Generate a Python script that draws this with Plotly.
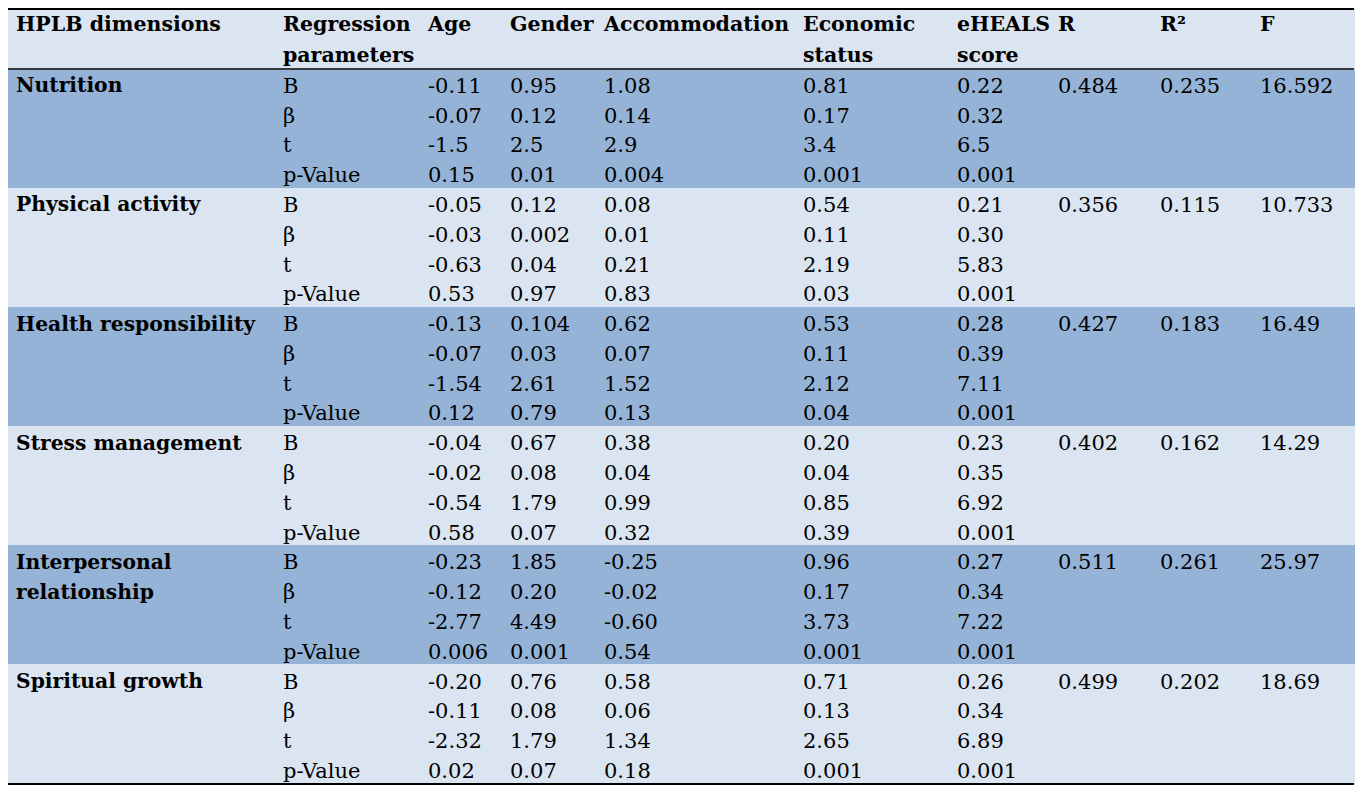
import plotly.graph_objects as go

# regression of HPLB dimensions on demographics and eHEALS score
dimensions = ["Nutrition", "Physical activity", "Health responsibility",
              "Stress management", "Interpersonal relationship", "Spiritual growth"]
params = ["B", "β", "t", "p-Value"]

age = [["-0.11", "-0.07", "-1.5", "0.15"],
       ["-0.05", "-0.03", "-0.63", "0.53"],
       ["-0.13", "-0.07", "-1.54", "0.12"],
       ["-0.04", "-0.02", "-0.54", "0.58"],
       ["-0.23", "-0.12", "-2.77", "0.006"],
       ["-0.20", "-0.11", "-2.32", "0.02"]]
gender = [["0.95", "0.12", "2.5", "0.01"],
          ["0.12", "0.002", "0.04", "0.97"],
          ["0.104", "0.03", "2.61", "0.79"],
          ["0.67", "0.08", "1.79", "0.07"],
          ["1.85", "0.20", "4.49", "0.001"],
          ["0.76", "0.08", "1.79", "0.07"]]
accommodation = [["1.08", "0.14", "2.9", "0.004"],
                 ["0.08", "0.01", "0.21", "0.83"],
                 ["0.62", "0.07", "1.52", "0.13"],
                 ["0.38", "0.04", "0.99", "0.32"],
                 ["-0.25", "-0.02", "-0.60", "0.54"],
                 ["0.58", "0.06", "1.34", "0.18"]]
economic = [["0.81", "0.17", "3.4", "0.001"],
            ["0.54", "0.11", "2.19", "0.03"],
            ["0.53", "0.11", "2.12", "0.04"],
            ["0.20", "0.04", "0.85", "0.39"],
            ["0.96", "0.17", "3.73", "0.001"],
            ["0.71", "0.13", "2.65", "0.001"]]
eheals = [["0.22", "0.32", "6.5", "0.001"],
          ["0.21", "0.30", "5.83", "0.001"],
          ["0.28", "0.39", "7.11", "0.001"],
          ["0.23", "0.35", "6.92", "0.001"],
          ["0.27", "0.34", "7.22", "0.001"],
          ["0.26", "0.34", "6.89", "0.001"]]
r_vals = ["0.484", "0.356", "0.427", "0.402", "0.511", "0.499"]
r2_vals = ["0.235", "0.115", "0.183", "0.162", "0.261", "0.202"]
f_vals = ["16.592", "10.733", "16.49", "14.29", "25.97", "18.69"]

# two header lines per column
header_top = ["HPLB dimensions", "Regression", "Age", "Gender", "Accommodation",
              "Economic", "eHEALS", "R", "R²", "F"]
header_bot = ["", "parameters", "", "", "", "status", "score", "", "", ""]

# page has an 8px body margin, so the figure is shrunk and shifted by that
OFF = 8
W, H = 1364 - 2 * OFF, 794 - 2 * OFF
col_edges = [8, 275, 420, 502, 596, 795, 949, 1050, 1152, 1252, 1354]
top, head_bot, bottom = 8, 69, 784

DARK = "#95b3d7"
LIGHT = "#dbe5f1"

# flatten the groups into 4 rows each
cols = [[] for _ in range(10)]
fills = []
for i, dim in enumerate(dimensions):
    name_lines = ["Interpersonal", "relationship"] if dim == "Interpersonal relationship" else [dim]
    for j in range(4):
        cols[0].append(name_lines[j] if j < len(name_lines) else "")
        cols[1].append(params[j])
        cols[2].append(age[i][j])
        cols[3].append(gender[i][j])
        cols[4].append(accommodation[i][j])
        cols[5].append(economic[i][j])
        cols[6].append(eheals[i][j])
        cols[7].append(r_vals[i] if j == 0 else "")
        cols[8].append(r2_vals[i] if j == 0 else "")
        cols[9].append(f_vals[i] if j == 0 else "")
        fills.append(DARK if i % 2 == 0 else LIGHT)

row_h = (bottom - head_bot) / 24.0
head_h = (head_bot - top) / 2.0
widths = [col_edges[k + 1] - col_edges[k] for k in range(10)]

fam = "DejaVu Serif"

fig = go.Figure(go.Table(
    domain=dict(x=[(col_edges[0] - OFF) / W, (col_edges[-1] - OFF) / W],
                y=[0, 1 - (top - OFF) / H]),
    columnwidth=widths,
    header=dict(values=[[a, b] for a, b in zip(header_top, header_bot)],
                fill_color=LIGHT, line=dict(color=LIGHT, width=1),
                align="left", height=head_h,
                font=dict(family=fam, size=20.5, color="black", weight="bold")),
    cells=dict(values=cols,
               fill_color=[fills] * 10, line=dict(color=[fills] * 10, width=1),
               align="left", height=row_h,
               font=dict(family=fam, size=[20.3] + [21] * 9, color="black",
                         weight=["bold"] + ["normal"] * 9)),
))

for yp in [top, head_bot, bottom]:
    yy = max(yp - OFF, 1)
    fig.add_shape(type="line", xref="paper", yref="paper",
                  x0=(col_edges[0] - OFF) / W, x1=(col_edges[-1] - OFF) / W,
                  y0=1 - yy / H, y1=1 - yy / H,
                  line=dict(color="black", width=2 if yp != head_bot else 1.5), layer="above")

fig.update_layout(width=W, height=H, margin=dict(l=0, r=0, t=0, b=0),
                  paper_bgcolor="white", plot_bgcolor="white")

fig.write_html("out.html")
